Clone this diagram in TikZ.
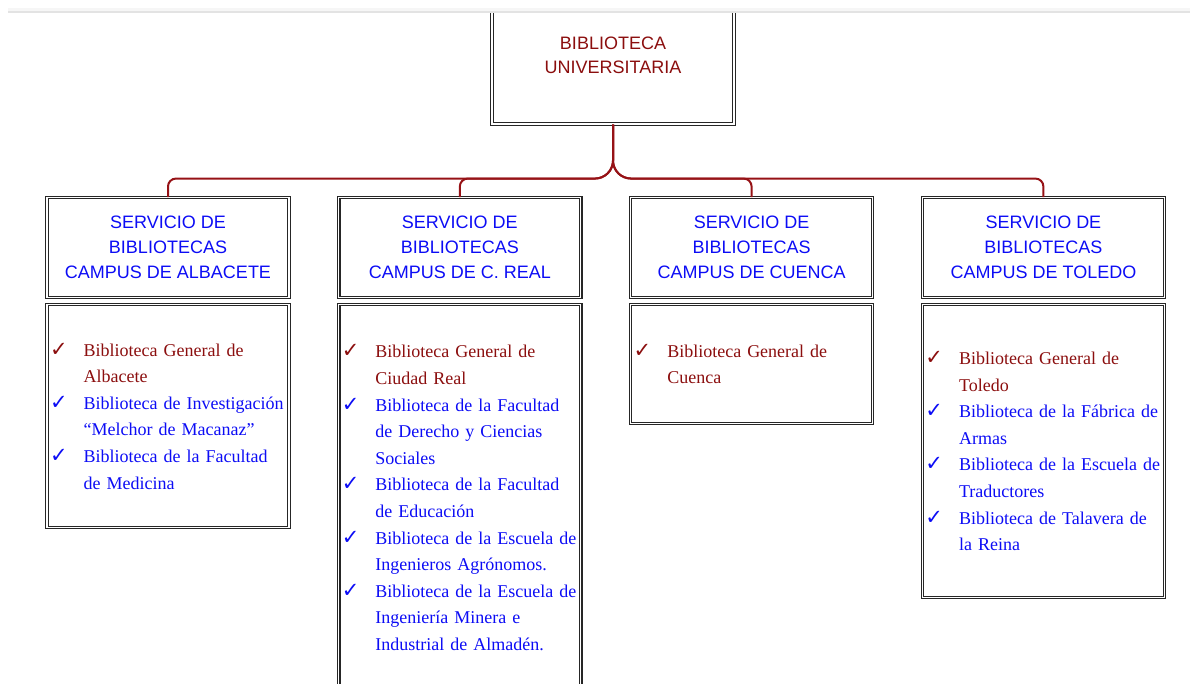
\documentclass[tikz,border=0pt]{standalone}
\usepackage{fontspec}
\setmainfont{Liberation Serif}
\setsansfont{Liberation Sans}
\newfontfamily\checkfont{DejaVu Sans}
\usetikzlibrary{positioning,calc}
\definecolor{bured}{RGB}{139,14,14}
\definecolor{linkred}{RGB}{150,18,22}
\definecolor{bublue}{RGB}{12,12,245}
\newcommand{\chk}{\leavevmode\llap{{\checkfont\fontsize{21}{21}\selectfont ✓}\hspace{16pt}}}

\begin{document}
\begin{tikzpicture}[%
      x=1pt, y=-1pt,                % work in screen pixels, y going down
      node distance=6pt and 48.7pt, % header to list, header to header
      ]
  \tikzset{
    dbl/.style={draw=black!85, line width=1.1pt, double=white, double distance=1.3pt},
    rootbox/.style={dbl, minimum width=242pt, minimum height=138pt, align=center,
                    text=bured, font=\sffamily\fontsize{18}{24}\selectfont},
    headbox/.style={dbl, minimum width=242pt, minimum height=100pt, align=center,
                    text=bublue, font=\sffamily\fontsize{18}{25}\selectfont},
    listbox/.style={dbl, minimum width=242pt},
    items/.style={inner sep=0pt, text width=205pt, align=left,
                  font=\fontsize{18}{26.6}\selectfont},
    link/.style={draw=linkred, line width=2pt},
  }
  \useasboundingbox (0,0) rectangle (1190,683);

  % Top box (cut off by the page edge)
  \begin{scope}
    \clip (0,13) rectangle (1190,683);
    \node [rootbox] (bu) at (613,55) {BIBLIOTECA\\UNIVERSITARIA};
  \end{scope}
  \fill [gray!7]  (8,8)  rectangle (1190,11);
  \fill [gray!22] (8,11) rectangle (1190,13);

  % Campus headers
  \node [headbox, anchor=north] (hAlb) at (168,197) {SERVICIO DE\\BIBLIOTECAS\\CAMPUS DE ALBACETE};
  \node [headbox, right=of hAlb] (hCR)  {SERVICIO DE\\BIBLIOTECAS\\CAMPUS DE C. REAL};
  \node [headbox, right=of hCR]  (hCue) {SERVICIO DE\\BIBLIOTECAS\\CAMPUS DE CUENCA};
  \node [headbox, right=of hCue] (hTol) {SERVICIO DE\\BIBLIOTECAS\\CAMPUS DE TOLEDO};

  % Library lists
  \node [listbox, below=of hAlb, minimum height=223pt] (lAlb) {};
  \node [listbox, below=of hCR,  minimum height=386pt] (lCR)  {};
  \node [listbox, below=of hCue, minimum height=119pt] (lCue) {};
  \node [listbox, below=of hTol, minimum height=293pt] (lTol) {};

  \node [items, right=37pt of lAlb.west] (tAlb) {\noindent
    \color{bured}\chk Biblioteca General de\\Albacete\\
    \color{bublue}\chk Biblioteca de Investigación\\“Melchor de Macanaz”\\
    \chk Biblioteca de la Facultad\\de Medicina};
  \node [items, right=37pt of lCR.west] (tCR) {\noindent
    \color{bured}\chk Biblioteca General de\\Ciudad Real\\
    \color{bublue}\chk Biblioteca de la Facultad\\de Derecho y Ciencias\\Sociales\\
    \chk Biblioteca de la Facultad\\de Educación\\
    \chk Biblioteca de la Escuela de\\Ingenieros Agrónomos.\\
    \chk Biblioteca de la Escuela de\\Ingeniería Minera e\\Industrial de Almadén.};
  \node [items, right=37pt of lCue.west] (tCue) {\noindent
    \color{bured}\chk Biblioteca General de\\Cuenca};
  \node [items, right=37pt of lTol.west] (tTol) {\noindent
    \color{bured}\chk Biblioteca General de\\Toledo\\
    \color{bublue}\chk Biblioteca de la Fábrica de\\Armas\\
    \chk Biblioteca de la Escuela de\\Traductores\\
    \chk Biblioteca de Talavera de\\la Reina};

  % Connectors
  \coordinate (bar) at ($(bu.south)+(0,54)$);
  \draw [link] (bu.south) [rounded corners=18pt] |- ($(bar)!0.5!(bar -| hAlb.north)$) [rounded corners=8pt] -| (hAlb.north);
  \draw [link] (bu.south) [rounded corners=18pt] |- ($(bar)!0.5!(bar -| hCR.north)$)  [rounded corners=8pt] -| (hCR.north);
  \draw [link] (bu.south) [rounded corners=18pt] |- ($(bar)!0.5!(bar -| hCue.north)$) [rounded corners=8pt] -| (hCue.north);
  \draw [link] (bu.south) [rounded corners=18pt] |- ($(bar)!0.5!(bar -| hTol.north)$) [rounded corners=8pt] -| (hTol.north);

\end{tikzpicture}
\end{document}
